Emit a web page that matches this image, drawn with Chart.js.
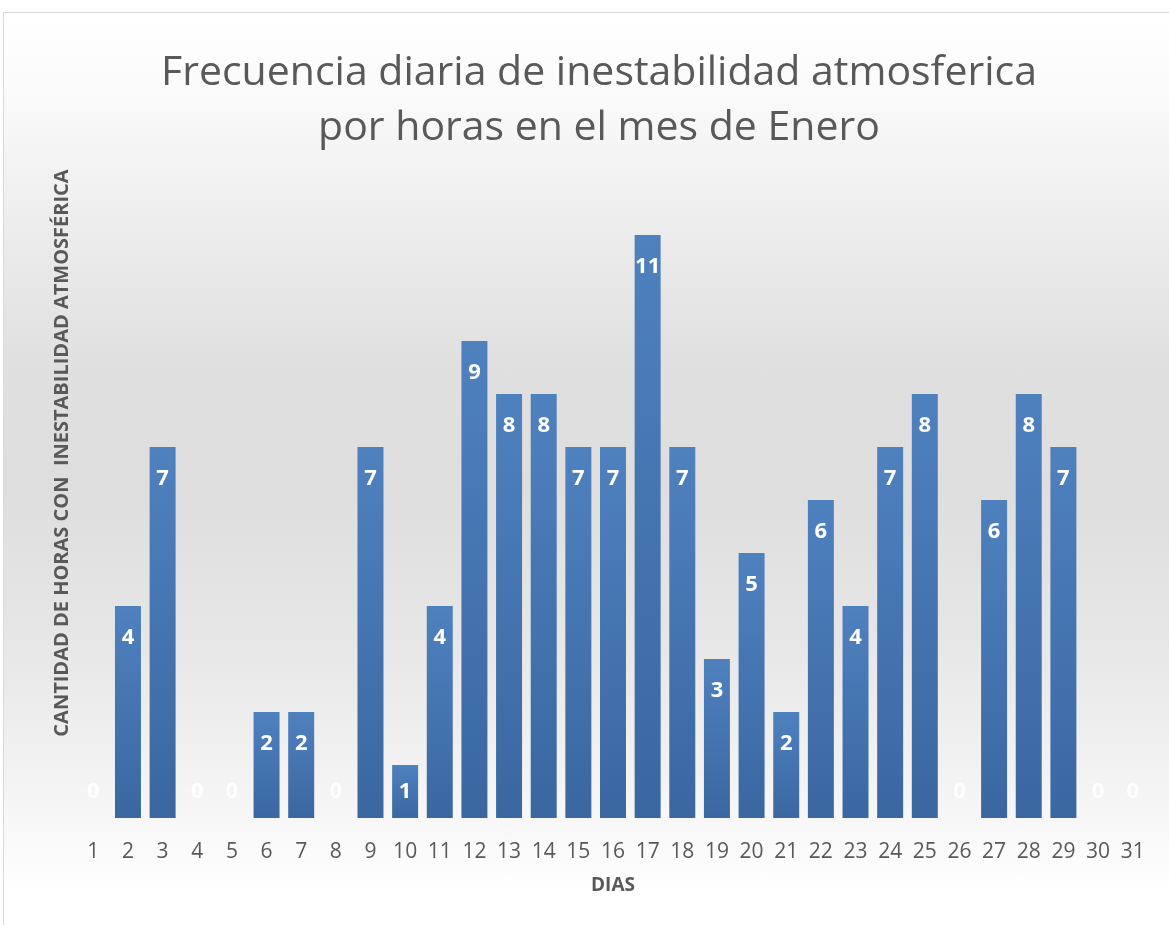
<!DOCTYPE html>
<html>
<head>
<meta charset="utf-8">
<script src="https://cdn.jsdelivr.net/npm/chart.js@4.4.0/dist/chart.umd.min.js"></script>
<style>
  html, body { margin: 0; padding: 0; background: #fff; }
  #marco {
    position: absolute; left: 3px; top: 12px; width: 1166px; height: 913px;
    border-top: 1px solid #d9d9d9; border-left: 1px solid #d9d9d9;
    background: linear-gradient(to bottom, #ffffff 0%, #fbfbfb 8%, #eeeeee 22%, #e0e0e0 38%, #dedede 52%, #e6e6e6 68%, #f3f3f3 84%, #ffffff 96%);
  }
  canvas { display: block; }
</style>
</head>
<body>
<div id="marco"><canvas id="grafico" width="1165" height="912"></canvas></div>
<script>
// Días del mes y horas con inestabilidad
const dias = ['1','2','3','4','5','6','7','8','9','10','11','12','13','14','15','16','17','18','19','20','21','22','23','24','25','26','27','28','29','30','31'];
const horas = [0, 4, 7, 0, 0, 2, 2, 0, 7, 1, 4, 9, 8, 8, 7, 7, 11, 7, 3, 5, 2, 6, 4, 7, 8, 0, 6, 8, 7, 0, 0];
const ejeYMax = 12;
const tituloEjeY = 'CANTIDAD DE HORAS CON  INESTABILIDAD ATMOSFÉRICA';

const gris = '#595959';
const fuente = "'Open Sans', 'Noto Sans', sans-serif";

// gradiente de cada barra (claro arriba, oscuro abajo)
function colorBarra(context) {
  const chart = context.chart;
  if (!chart.chartArea) return '#4a78b3';
  const y = chart.scales.y;
  const v = context.raw || 0;
  const top = y.getPixelForValue(v);
  const base = y.getPixelForValue(0);
  if (base - top < 1) return '#4a78b3';
  const g = chart.ctx.createLinearGradient(0, top, 0, base);
  g.addColorStop(0, '#4f81bf');
  g.addColorStop(1, '#3a67a0');
  return g;
}

// etiquetas blancas dentro de la barra, cerca del extremo
const etiquetas = {
  id: 'etiquetas',
  afterDatasetsDraw(chart) {
    const ctx = chart.ctx;
    const meta = chart.getDatasetMeta(0);
    ctx.save();
    ctx.font = "bold 22px " + fuente;
    ctx.fillStyle = '#ffffff';
    ctx.textAlign = 'center';
    ctx.textBaseline = 'middle';
    meta.data.forEach((bar, i) => {
      const y = Math.min(bar.y + 32, bar.base - 26);
      ctx.fillText(String(horas[i]), bar.x, y);
    });
    ctx.restore();
  }
};

// título del eje vertical (algo más arriba que el centro del área)
const tituloVertical = {
  id: 'tituloVertical',
  afterDraw(chart) {
    const ctx = chart.ctx;
    ctx.save();
    ctx.translate(58, 440);
    ctx.rotate(-Math.PI / 2);
    ctx.font = "bold 20px " + fuente;
    ctx.fillStyle = gris;
    ctx.textAlign = 'center';
    ctx.textBaseline = 'middle';
    ctx.fillText(tituloEjeY, 0, 0);
    ctx.restore();
  }
};

const ctxGrafico = document.getElementById('grafico').getContext('2d');
const grafico = new Chart(ctxGrafico, {
  type: 'bar',
  data: {
    labels: dias,
    datasets: [{
      data: horas,
      backgroundColor: colorBarra,
      borderWidth: 0,
      categoryPercentage: 0.75,
      barPercentage: 1
    }]
  },
  options: {
    responsive: false,
    animation: false,
    layout: { padding: { left: 44, right: 19, top: 0, bottom: 0 } },
    plugins: {
      legend: { display: false },
      tooltip: { enabled: false },
      title: {
        display: true,
        text: ['Frecuencia diaria de inestabilidad atmosferica', 'por horas en el mes de Enero'],
        color: gris,
        font: { family: fuente, size: 41, weight: 'normal', lineHeight: 1.34 },
        padding: { top: 33, bottom: 26 }
      }
    },
    scales: {
      y: {
        min: 0,
        max: ejeYMax,
        grid: { display: false, drawTicks: false },
        border: { display: false },
        ticks: { display: false },
        afterFit: s => { s.width = 28; }
      },
      x: {
        grid: { display: false, drawTicks: false },
        border: { display: false },
        ticks: {
          color: gris,
          font: { family: fuente, size: 21 },
          padding: 21,
          maxRotation: 0,
          autoSkip: false
        },
        title: {
          display: true,
          text: 'DIAS',
          color: gris,
          font: { family: fuente, size: 19, weight: 'bold', lineHeight: 1.2 },
          padding: { top: 0, bottom: 28 }
        },
        afterFit: s => { s.height = 107; }
      }
    }
  },
  plugins: [etiquetas, tituloVertical]
});
</script>
</body>
</html>
